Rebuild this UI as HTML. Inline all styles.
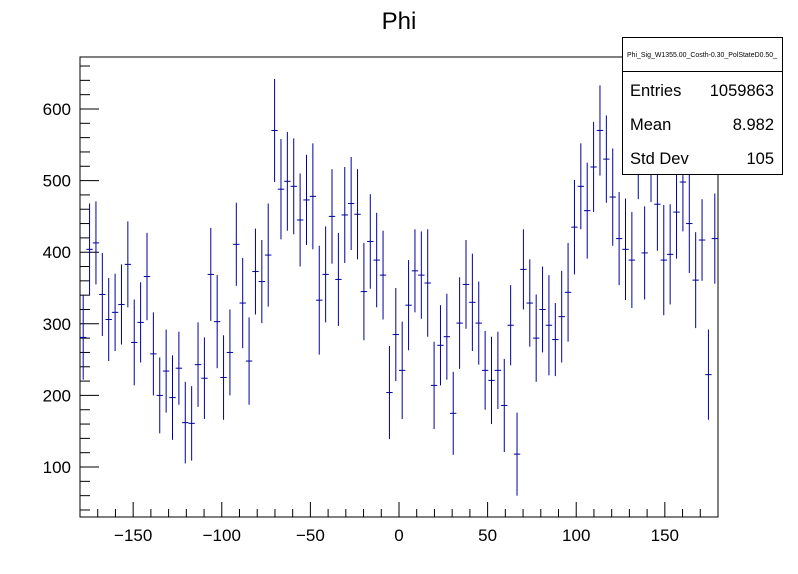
<!DOCTYPE html>
<html><head><meta charset="utf-8"><style>
body{margin:0;background:#fff;font-family:"Liberation Sans",sans-serif}
svg{display:block}
</style></head><body>
<svg id="c" width="798" height="574" viewBox="0 0 798 574" xmlns="http://www.w3.org/2000/svg">
<rect width="798" height="574" fill="#fff"/>
<text x="399" y="29" font-size="24" text-anchor="middle" font-family="Liberation Sans">Phi</text>
<rect x="80" y="57" width="638" height="460" fill="none" stroke="#000" stroke-width="1"/>
<g id="axes"></g>
<g id="marks"></g>
<g>
<rect x="622.5" y="37.5" width="160" height="137" fill="#fff" stroke="#000" stroke-width="1"/>
<line x1="622" y1="71.5" x2="783" y2="71.5" stroke="#000"/>
<text x="702" y="57" font-size="7" text-anchor="middle" textLength="150" lengthAdjust="spacingAndGlyphs">Phi_Sig_W1355.00_Costh-0.30_PolStateD0.50_</text>
<text x="630" y="96" font-size="16.5">Entries</text>
<text x="774" y="96" font-size="16.5" text-anchor="end">1059863</text>
<text x="630" y="130" font-size="16.5">Mean</text>
<text x="774" y="130" font-size="16.5" text-anchor="end">8.982</text>
<text x="630" y="164" font-size="16.5">Std Dev</text>
<text x="774" y="164" font-size="16.5" text-anchor="end">105</text>
</g>
</svg>
<script>
const counts=[281,404,413,341,306,316,327,383,274,302,366,258,200,234,197,238,162,161,243,224,369,303,225,260,411,329,248,373,359,396,570,488,499,492,445,473,478,333,369,450,362,452,468,453,345,415,389,368,204,285,235,326,374,368,357,214,270,282,175,301,355,330,301,235,221,235,186,298,118,376,329,280,320,298,278,310,344,435,492,458,519,570,530,477,419,404,389,540,399,536,467,389,397,456,498,440,361,417,229,419];
const errors=[59,64,58,58,58,54,56,60,60,56,61,58,53,58,59,51,57,52,59,57,65,65,59,60,58,63,61,60,58,72,72,70,69,67,65,63,74,76,67,66,65,67,65,63,68,66,66,62,65,65,68,63,58,61,75,61,56,60,58,64,62,68,58,55,61,54,65,56,58,56,61,61,60,70,51,64,69,66,60,67,63,63,61,68,65,71,67,66,65,66,65,77,70,65,69,69,67,57,63,63];
const xTicks=[-150,-100,-50,0,50,100,150];
const yTicks=[100,200,300,400,500,600];
const xMin=-180,xMax=180,yMin=30.2,yMax=672.6;
const L=80,R=718,T=57,B=517;
const NS='http://www.w3.org/2000/svg';
function X(v){return L+(v-xMin)/(xMax-xMin)*(R-L);}
function Y(v){return B-(v-yMin)/(yMax-yMin)*(B-T);}
function mk(tag,attrs,parent){const e=document.createElementNS(NS,tag);for(const k in attrs)e.setAttribute(k,attrs[k]);parent.appendChild(e);return e;}
const axes=document.getElementById('axes');
for(let v=-180;v<=180;v+=10){
  const major=v%50===0;
  const t=mk('line',{x1:X(v),x2:X(v),y1:B,y2:B-(major?15:8),stroke:'#000'},axes);
  
  
}
xTicks.forEach(v=>{
  const t=mk('text',{x:X(v),y:B+24,'font-size':17,'text-anchor':'middle'},axes);
  t.textContent=(v<0?'\u2212'+(-v):String(v));
  
  
});
for(let v=40;v<=660;v+=20){
  const major=v%100===0;
  const t=mk('line',{x1:L,x2:L+(major?19:10),y1:Y(v),y2:Y(v),stroke:'#000'},axes);
  
  
}
yTicks.forEach(v=>{
  const t=mk('text',{x:L-9,y:Y(v)+6,'font-size':17,'text-anchor':'end'},axes);
  t.textContent=String(v);
  
  
});
const marks=document.getElementById('marks');
const w=(xMax-xMin)/counts.length;
counts.forEach((c,i)=>{
  const x0=xMin+i*w,xc=x0+w/2;
  const g=mk('g',{stroke:'#0000a0','stroke-width':1},marks);
  
  
  mk('line',{x1:X(xc),x2:X(xc),y1:Math.max(T,Y(c+errors[i])),y2:Math.min(B,Y(c-errors[i]))},g);
  mk('line',{x1:X(x0),x2:X(x0+w),y1:Y(c),y2:Y(c)},g);
});
</script>
</body></html>
